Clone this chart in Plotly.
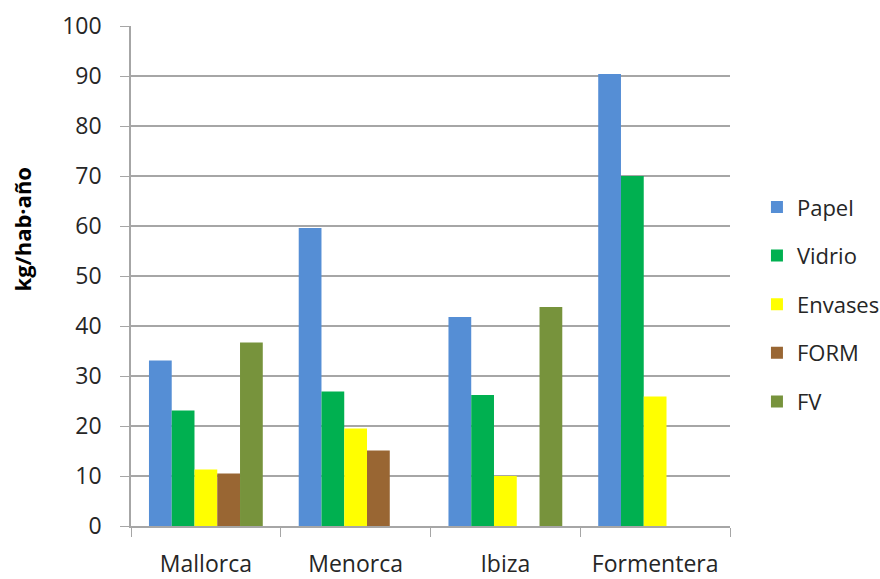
import plotly.graph_objects as go

islands = ["Mallorca", "Menorca", "Ibiza", "Formentera"]
papel = [33.1, 59.6, 41.8, 90.4]
vidrio = [23.1, 26.9, 26.2, 70.0]
envases = [11.3, 19.5, 10.0, 25.9]
form = [10.5, 15.1, None, None]
fv = [36.7, None, 43.8, None]

series = [
    ("Papel", papel, "#558ED5"),
    ("Vidrio", vidrio, "#00B050"),
    ("Envases", envases, "#FFFF00"),
    ("FORM", form, "#996633"),
    ("FV", fv, "#77933C"),
]

font_family = "'Open Sans', sans-serif"
grid_color = "#a6a6a6"
text_color = "#262626"

fig = go.Figure()
for name, vals, color in series:
    fig.add_trace(go.Bar(
        x=islands, y=vals, name=name, legendgroup=name,
        marker=dict(color=color, line=dict(width=0)),
    ))

fig.update_layout(
    width=880, height=579,
    margin=dict(l=131, r=150, t=25.5, b=53, autoexpand=False),
    plot_bgcolor="white", paper_bgcolor="white",
    barmode="group", bargap=0.24, bargroupgap=0,
    font=dict(family=font_family, size=22, color=text_color),
    showlegend=True,
    legend=dict(
        x=1.045, xanchor="left", y=0.4436, yanchor="middle",
        font=dict(size=22, color=text_color),
        tracegroupgap=17, bgcolor="rgba(0,0,0,0)",
    ),
    xaxis=dict(
        type="category", tickson="boundaries",
        ticks="outside", ticklen=9, tickcolor=grid_color,
        showline=True, linecolor=grid_color, linewidth=1.5,
        showgrid=False, ticklabelstandoff=17,
        tickfont=dict(size=23, color=text_color),
    ),
    yaxis=dict(
        range=[0, 100], dtick=10, tick0=0,
        ticks="outside", ticklen=9, tickcolor=grid_color,
        showline=True, linecolor=grid_color, linewidth=1.5,
        showgrid=True, gridcolor=grid_color, gridwidth=1.5,
        zeroline=False, ticklabelstandoff=14,
        tickfont=dict(size=23, color=text_color),
    ),
    annotations=[dict(
        text="<b>kg/hab·año</b>", textangle=-90,
        xref="paper", yref="paper", x=-0.182, y=0.593,
        xanchor="center", yanchor="middle", showarrow=False,
        font=dict(size=22, color="#000000"),
    )],
)

fig.write_html("out.html")
